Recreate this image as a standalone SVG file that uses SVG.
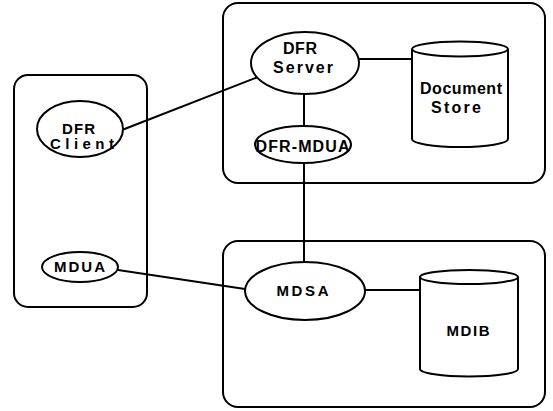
<svg xmlns="http://www.w3.org/2000/svg" width="553" height="411" viewBox="0 0 553 411">
<style>
.box{fill:none;stroke:#000;stroke-width:2}
.node{fill:#fff;stroke:#000;stroke-width:2}
.conn{fill:none;stroke:#000;stroke-width:2}
text{font-family:"Liberation Sans",Arial,sans-serif;font-weight:bold;font-size:16px;text-anchor:middle;fill:#000}
.s{font-size:15px}
</style>
<rect width="553" height="411" fill="#fff"/>
<g id="boxes">
<rect id="server-box" class="box" x="223" y="3" width="322" height="180" rx="15" ry="15"/>
<rect id="client-box" class="box" x="14" y="75" width="133" height="232" rx="14" ry="14"/>
<rect id="dsa-box" class="box" x="223" y="241" width="322" height="166" rx="15" ry="15"/>
</g>
<g id="connectors">
<line class="conn" x1="122" y1="130" x2="258" y2="77" stroke-width="3"/>
<line class="conn" x1="359" y1="59" x2="412" y2="59"/>
<line class="conn" x1="304" y1="94" x2="304" y2="126"/>
<line class="conn" x1="304" y1="163" x2="304" y2="262"/>
<line class="conn" x1="118" y1="270" x2="245" y2="289"/>
<line class="conn" x1="365" y1="290" x2="420" y2="290"/>
</g>
<g id="dfr-server">
<ellipse class="node" cx="305" cy="63" rx="54" ry="31"/>
<text x="300" y="54" textLength="34" lengthAdjust="spacing">DFR</text>
<text x="303" y="72.5" textLength="60" lengthAdjust="spacing">Server</text>
</g>
<g id="dfr-mdua">
<ellipse class="node" cx="303" cy="144.5" rx="48" ry="18.5"/>
<text x="302.5" y="151.5" textLength="94" lengthAdjust="spacing">DFR-MDUA</text>
</g>
<g id="document-store">
<path class="node" d="M412,49 L412,139 A48,8 0 0 0 508,139 L508,49"/>
<ellipse class="node" cx="460" cy="49" rx="48" ry="7.5"/>
<text x="461" y="94" textLength="82" lengthAdjust="spacing">Document</text>
<text x="456" y="112.5" textLength="50" lengthAdjust="spacing">Store</text>
</g>
<g id="dfr-client">
<ellipse class="node" cx="80" cy="129" rx="43" ry="28"/>
<text class="s" x="78.5" y="133.5" textLength="33" lengthAdjust="spacing">DFR</text>
<text class="s" x="82" y="149" textLength="64" lengthAdjust="spacing">Client</text>
</g>
<g id="mdua">
<ellipse class="node" cx="80" cy="267" rx="38" ry="15"/>
<text class="s" x="79.5" y="271.5" textLength="51" lengthAdjust="spacing">MDUA</text>
</g>
<g id="mdsa">
<ellipse class="node" cx="305" cy="291" rx="60" ry="29"/>
<text class="s" x="302.5" y="296" textLength="52" lengthAdjust="spacing">MDSA</text>
</g>
<g id="mdib">
<path class="node" d="M420,277 L420,369 A49,7.5 0 0 0 518,369 L518,277"/>
<ellipse class="node" cx="469" cy="277" rx="49" ry="7"/>
<text class="s" x="468" y="336" textLength="43" lengthAdjust="spacing">MDIB</text>
</g>
</svg>
